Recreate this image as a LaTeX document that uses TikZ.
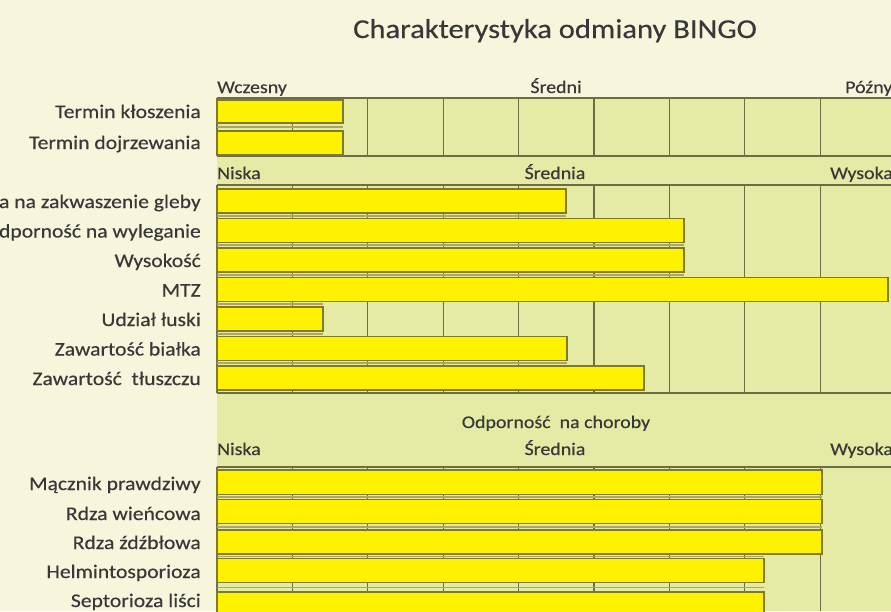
\documentclass[tikz,border=0pt]{standalone}
\usepackage{fontspec}
\setmainfont[FakeStretch=1.12,FakeBold=0.35]{Carlito}
\definecolor{creambg}{HTML}{F7F5DC}
\definecolor{plotbg}{HTML}{E5EBA5}
\definecolor{barY}{HTML}{FFF200}
\definecolor{barE}{HTML}{7F7A24}
\definecolor{gridC}{HTML}{6E6C44}
\definecolor{gapC}{HTML}{B0A460}
\definecolor{txt}{HTML}{383838}
\begin{document}
\begin{tikzpicture}[x=1pt,y=-1pt,
  bar/.style={fill=barY,draw=barE,line width=1.3pt},
  gridline/.style={draw=gridC,line width=1.2pt},
  gapline/.style={draw=gapC,line width=1.6pt},
  rowlab/.style={anchor=base east,text=txt,font=\fontsize{19.3}{21}\selectfont,inner sep=0pt},
  axlab/.style={text=txt,font=\fontsize{17.8}{20}\selectfont,inner sep=0pt}]
\useasboundingbox (0,0) rectangle (891,611);
\clip (0,0) rectangle (891,611);
\fill[creambg] (0,0) rectangle (891,611);
\fill[plotbg] (217,97) rectangle (891,611);

% title
\node[anchor=base,text=txt,font=\fontsize{27.3}{31}\selectfont,inner sep=0pt] (title) at (555,38) {Charakterystyka odmiany BINGO};

% ---------- section 1 ----------
\node[axlab,anchor=base west] (w1) at (217,93) {Wczesny};
\node[axlab,anchor=base] (s1) at (556,93) {Średni};
\node[axlab,anchor=base west] (p1) at (845,93) {Późny};
\foreach \k in {0,...,8} \draw[gridline] ({217+75.4*\k},98) -- ({217+75.4*\k},156);
\draw[gridline] (217,98) -- (891,98);
\draw[gridline] (217,156) -- (891,156);
\draw[gapline] (217,127) -- (343,127);
\draw[bar] (217,100) rectangle (343,123);
\draw[bar] (217,131) rectangle (343,155);
\node[rowlab] (r11) at (201,118) {Termin kłoszenia};
\node[rowlab] (r12) at (201,149) {Termin dojrzewania};

% ---------- section 2 ----------
\node[axlab,anchor=base west] (n2) at (217,179) {Niska};
\node[axlab,anchor=base] (s2) at (555,179) {Średnia};
\node[axlab,anchor=base west] (h2) at (830,179) {Wysoka};
\foreach \k in {0,...,8} \draw[gridline] ({217+75.4*\k},185) -- ({217+75.4*\k},393);
\draw[gridline] (217,185) -- (891,185);
\draw[gridline] (217,393) -- (891,393);
\foreach \k/\e in {0/566,1/684,2/684,3/323,4/323,5/567}
  \draw[gapline] (217,{215.75+29.5*\k}) -- (\e,{215.75+29.5*\k});
\foreach \k/\e in {0/566,1/684,2/684,3/888,4/323,5/567,6/644}
  \draw[bar] (217,{189+29.5*\k}) rectangle (\e,{213+29.5*\k});
\node[rowlab] (r21) at (201,208) {Tolerancja na zakwaszenie gleby};
\node[rowlab] (r22) at (201,237.5) {Odporność na wyleganie};
\node[rowlab] (r23) at (201,267) {Wysokość};
\node[rowlab] (r24) at (201,296.5) {MTZ};
\node[rowlab] (r25) at (201,326) {Udział łuski};
\node[rowlab] (r26) at (201,355.5) {Zawartość białka};
\node[rowlab] (r27) at (201,385) {Zawartość\ \ tłuszczu};

% ---------- section 3 ----------
\node[axlab,anchor=base] (o3) at (556,428) {Odporność\ \ na choroby};
\node[axlab,anchor=base west] (n3) at (217,455) {Niska};
\node[axlab,anchor=base] (s3) at (555,455) {Średnia};
\node[axlab,anchor=base west] (h3) at (830,455) {Wysoka};
\foreach \k in {0,...,8} \draw[gridline] ({217+75.4*\k},467) -- ({217+75.4*\k},611);
\draw[gridline] (217,467) -- (891,467);
\foreach \y/\e in {497/822,526.8/822,556.3/764,587.3/764}
  \draw[gapline] (217,\y) -- (\e,\y);
\foreach \t/\b/\e in {470/494.5/822,499.5/523.5/822,530/554/822,558.5/582.5/764,592/616/764}
  \draw[bar] (217,\t) rectangle (\e,\b);
\node[rowlab] (r31) at (201,490) {Mącznik prawdziwy};
\node[rowlab] (r32) at (201,520) {Rdza wieńcowa};
\node[rowlab] (r33) at (201,549) {Rdza źdźbłowa};
\node[rowlab] (r34) at (201,578) {Helmintosporioza};
\node[rowlab] (r35) at (201,607) {Septorioza liści};
\end{tikzpicture}
\end{document}
